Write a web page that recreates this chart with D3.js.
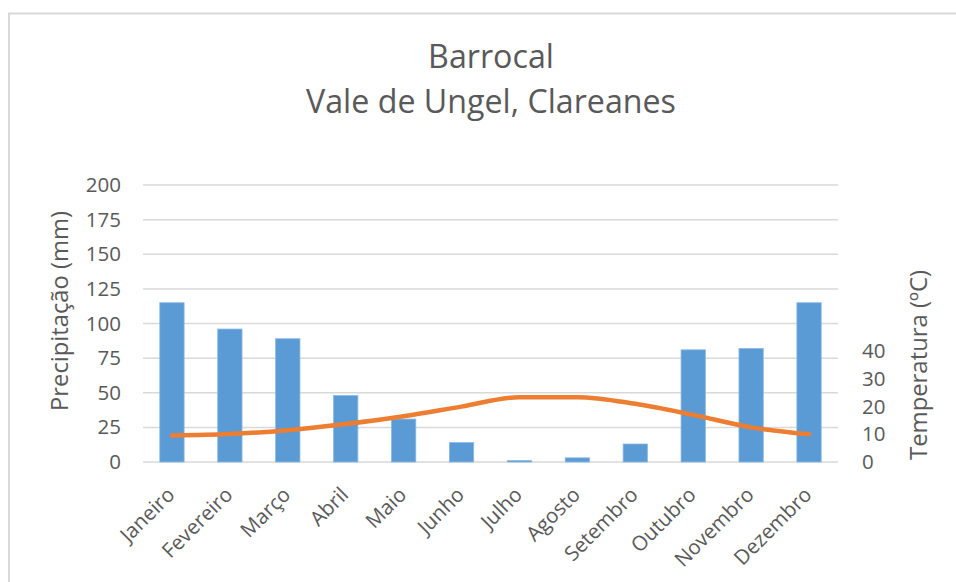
<!DOCTYPE html>
<html><head><meta charset="utf-8">
<script src="https://cdn.jsdelivr.net/npm/d3@7"></script>
<style>html,body{margin:0;padding:0;background:#fff;}svg{display:block;}</style>
</head><body>
<svg id="chart" width="956" height="582"></svg>
<script>
const months = ["Janeiro","Fevereiro","Março","Abril","Maio","Junho","Julho","Agosto","Setembro","Outubro","Novembro","Dezembro"];
const precipitation = [115, 96, 89, 48, 31, 14, 1, 3, 13, 81, 82, 115];
const temperature = [9.6, 10.1, 11.5, 13.7, 16.5, 20, 23.4, 23.4, 21, 17, 12.5, 10];
const leftTicks = [0, 25, 50, 75, 100, 125, 150, 175, 200];
const rightTicks = [0, 10, 20, 30, 40];
const titleLines = ["Barrocal", "Vale de Ungel, Clareanes"];
const leftTitle = "Precipitação (mm)";
const rightTitle = "Temperatura (ºC)";

const FONT = "'Open Sans', sans-serif";
const TXT = "#595959";
const svg = d3.select("#chart");

// frame
svg.append("rect").attr("x", 9).attr("y", 13.5).attr("width", 980).attr("height", 620)
  .attr("fill", "#fff").attr("stroke", "#d9d9d9").attr("stroke-width", 2);

const L = 143, R = 838, T = 185, B = 462;
const x = d3.scaleBand().domain(months).range([L, R]).paddingInner(0.58).paddingOuter(0.29);
const yL = d3.scaleLinear().domain([0, 200]).range([B, T]);
const yR = d3.scaleLinear().domain([0, 100]).range([B, T]);

function fit(sel, target) {
  const w = sel.node().getComputedTextLength();
  const fs = parseFloat(sel.attr("font-size"));
  sel.attr("font-size", fs * target / w);
  return fs * target / w;
}

// gridlines
svg.append("g").selectAll("line").data(leftTicks).join("line")
  .attr("x1", L).attr("x2", R).attr("y1", d => yL(d)).attr("y2", d => yL(d))
  .attr("stroke", "#d9d9d9").attr("stroke-width", 1.5);

// left axis (labels)
const gl = svg.append("g").attr("transform", `translate(${L},0)`)
  .call(d3.axisLeft(yL).tickValues(leftTicks).tickSize(0).tickPadding(22));
gl.select(".domain").remove();
gl.selectAll("text").attr("font-family", FONT).attr("font-size", 20.5).attr("fill", TXT);

// right axis
const gr = svg.append("g").attr("transform", `translate(${R},0)`)
  .call(d3.axisRight(yR).tickValues(rightTicks).tickSize(0).tickPadding(24));
gr.select(".domain").remove();
gr.selectAll("text").attr("font-family", FONT).attr("font-size", 20.5).attr("fill", TXT);

// bars
svg.append("g").selectAll("rect").data(months).join("rect")
  .attr("x", d => x(d)).attr("width", x.bandwidth())
  .attr("y", (d, i) => yL(precipitation[i]))
  .attr("height", (d, i) => B - yL(precipitation[i]))
  .attr("fill", "#5B9BD5").attr("stroke", "#8ab8e3").attr("stroke-width", 0.8);

// line
const line = d3.line()
  .x((d, i) => x(months[i]) + x.bandwidth() / 2)
  .y(d => yR(d))
  .curve(d3.curveMonotoneX);
svg.append("path").datum(temperature).attr("d", line)
  .attr("fill", "none").attr("stroke", "#ED7D31").attr("stroke-width", 4.5)
  .attr("stroke-linecap", "round").attr("stroke-linejoin", "round");

// x labels
svg.append("g").selectAll("text").data(months).join("text")
  .attr("transform", d => `translate(${x(d) + x.bandwidth() / 2 + 4},496) rotate(-45)`)
  .attr("text-anchor", "end").attr("font-family", FONT).attr("font-size", 20.5)
  .attr("fill", TXT).text(d => d);

// titles
const t2 = svg.append("text").attr("x", 491).attr("y", 113).attr("text-anchor", "middle")
  .attr("font-family", FONT).attr("font-size", 30).attr("fill", TXT).text(titleLines[1]);
const tfs = fit(t2, 370);
svg.append("text").attr("x", 491).attr("y", 67.5).attr("text-anchor", "middle")
  .attr("font-family", FONT).attr("font-size", tfs).attr("fill", TXT).text(titleLines[0]);

// axis titles
const lt = svg.append("text").attr("transform", "translate(68,311) rotate(-90)")
  .attr("text-anchor", "middle").attr("font-family", FONT).attr("font-size", 22)
  .attr("fill", TXT).text(leftTitle);
fit(lt, 200);
const rt = svg.append("text").attr("transform", "translate(927,365) rotate(-90)")
  .attr("text-anchor", "middle").attr("font-family", FONT).attr("font-size", 22)
  .attr("fill", TXT).text(rightTitle);
fit(rt, 190);
</script>
</body></html>
